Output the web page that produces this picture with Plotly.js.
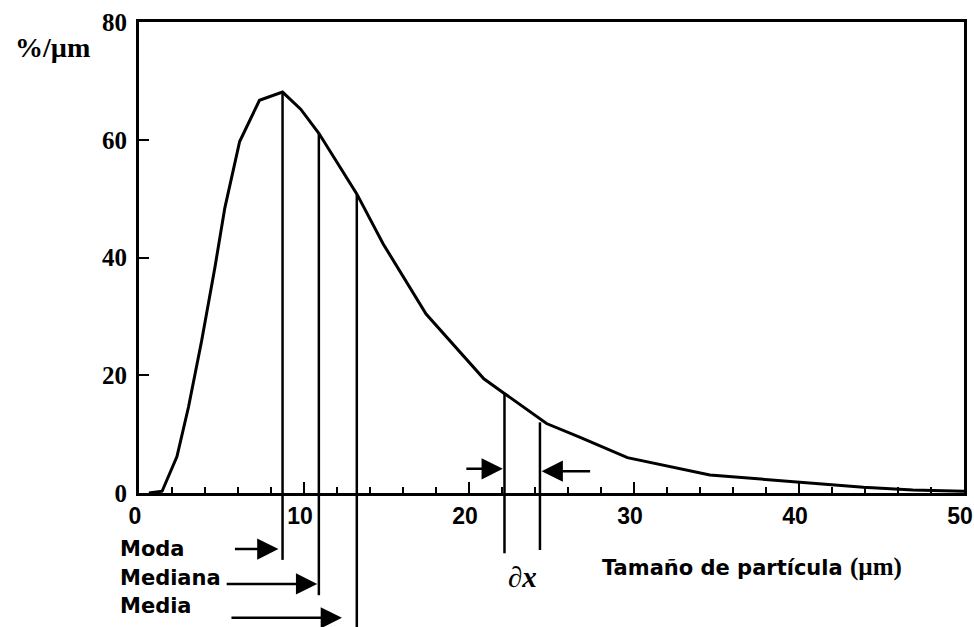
<!DOCTYPE html>
<html>
<head>
<meta charset="utf-8">
<script src="https://cdn.plot.ly/plotly-3.0.1.min.js"></script>
<style>
  html, body { margin: 0; padding: 0; background: #ffffff; }
  #chart { width: 974px; height: 627px; }
</style>
</head>
<body>
<div id="chart"></div>
<script>
// Particle size distribution (frequency curve, %/µm)
const sizeUm = [0.6, 1.4, 2.3, 3.0, 3.8, 4.6, 5.2, 6.1, 7.3, 8.7, 9.8, 10.9, 13.2, 14.8, 17.4, 20.9, 22.1, 24.7, 26.7, 29.6, 34.6, 39.9, 43.9, 46.9, 50];
const freq   = [0.0, 0.3, 6.2, 14.6, 25.9, 38.3, 48.4, 59.7, 66.7, 68.1, 65.2, 61.1, 50.8, 42.3, 30.4, 19.4, 17.0, 11.8, 9.5, 6.0, 3.05, 1.9, 0.97, 0.5, 0.3];

// Statistics marked on the curve: position and curve height there
const statNames   = ['Moda', 'Mediana', 'Media'];
const statX       = [8.7, 10.9, 13.2];
const statY       = [68.1, 61.1, 50.8];
// how far each marker line runs below the axis (paper units)
const statDrop    = [-0.142, -0.217, -0.29];
const labelY      = [-0.119, -0.180, -0.240];
const arrowY      = [-0.119, -0.193, -0.265];
const arrowTipX   = [8.45, 10.8, 12.3];
const arrowLen    = [-45, -92, -112];

// Interval ∂x
const dxX    = [22.15, 24.3];
const dxY    = [16.8, 12.0];
const dxDrop = [-0.128, -0.121];
const dxArrowY = [4.1, 3.7];
const dxArrowTip = [22.05, 24.4];
const dxArrowLen = [-38, 50];

const xTicks = [0, 10, 20, 30, 40, 50];
const yTicks = [0, 20, 40, 60, 80];

const serifBold = 'Liberation Serif, Times New Roman, serif';
const sansBold = 'DejaVu Sans, Arial, sans-serif';

const shapes = [];
const annotations = [];

statX.forEach((x, i) => {
  shapes.push({type: 'line', xref: 'x', yref: 'y', x0: x, x1: x, y0: 0, y1: statY[i],
               line: {color: '#000', width: 2.5}});
  shapes.push({type: 'line', xref: 'x', yref: 'paper', x0: x, x1: x, y0: 0, y1: statDrop[i],
               line: {color: '#000', width: 2.5}});
  annotations.push({xref: 'paper', yref: 'paper', x: -0.026, y: labelY[i], xanchor: 'left', yanchor: 'middle',
                    text: '<b>' + statNames[i] + '</b>', showarrow: false,
                    font: {family: sansBold, size: 21, color: '#000'}});
  annotations.push({xref: 'x', yref: 'paper', x: arrowTipX[i], y: arrowY[i], text: '',
                    showarrow: true, arrowhead: 2, arrowsize: 1.7, arrowwidth: 2.5, arrowcolor: '#000',
                    ax: arrowLen[i], ay: 0, standoff: 0});
});

dxX.forEach((x, i) => {
  shapes.push({type: 'line', xref: 'x', yref: 'y', x0: x, x1: x, y0: 0, y1: dxY[i],
               line: {color: '#000', width: 2.5}});
  shapes.push({type: 'line', xref: 'x', yref: 'paper', x0: x, x1: x, y0: 0, y1: dxDrop[i],
               line: {color: '#000', width: 2.5}});
  annotations.push({xref: 'x', yref: 'y', x: dxArrowTip[i], y: dxArrowY[i], text: '',
                    showarrow: true, arrowhead: 2, arrowsize: 1.7, arrowwidth: 2.5, arrowcolor: '#000',
                    ax: dxArrowLen[i], ay: 0, standoff: 0});
});

annotations.push({xref: 'x', yref: 'paper', x: (dxX[0] + dxX[1]) / 2, y: -0.178,
                  xanchor: 'center', yanchor: 'middle', showarrow: false,
                  text: '∂x', font: {family: serifBold, size: 29, color: '#000', style: 'italic', weight: 'bold'}});

annotations.push({xref: 'paper', yref: 'paper', x: 0.743, y: -0.157, xanchor: 'center', yanchor: 'middle',
                  showarrow: false,
                  text: '<b>Tamaño de partícula </b><span style="font-family:Liberation Serif;font-size:25px"><b>(µm)</b></span>',
                  font: {family: sansBold, size: 21, color: '#000'}});

annotations.push({xref: 'paper', yref: 'paper', x: -0.105, y: 0.945, xanchor: 'center', yanchor: 'middle',
                  showarrow: false, text: '<b>%/µm</b>',
                  font: {family: serifBold, size: 28, color: '#000'}});

const curve = {
  type: 'scatter', mode: 'lines', x: sizeUm, y: freq,
  line: {color: '#000', width: 3}, hoverinfo: 'skip'
};

const layout = {
  width: 974, height: 627,
  margin: {l: 139, r: 10, t: 22, b: 134, pad: 0},
  paper_bgcolor: '#fff', plot_bgcolor: '#fff',
  showlegend: false,
  xaxis: {
    range: [0, 50], tickvals: xTicks, ticktext: xTicks.map(String),
    ticks: 'inside', ticklen: 11, tickwidth: 2, tickcolor: '#000',
    minor: {dtick: 2, ticks: 'inside', ticklen: 6, tickwidth: 2, tickcolor: '#000', showgrid: false},
    showline: true, linewidth: 3, linecolor: '#000', mirror: true,
    showgrid: false, zeroline: false,
    ticklabelstandoff: 0, ticklabelshift: -4,
    tickfont: {family: 'Liberation Sans, Arial, sans-serif', size: 23, color: '#000', weight: 'bold'}
  },
  yaxis: {
    range: [0, 80], tickvals: yTicks, ticktext: yTicks.map(String),
    ticks: 'inside', ticklen: 10, tickwidth: 2, tickcolor: '#000',
    showline: true, linewidth: 3, linecolor: '#000', mirror: true,
    showgrid: false, zeroline: false,
    ticklabelstandoff: 4,
    tickfont: {family: serifBold, size: 25, color: '#000', weight: 'bold'}
  },
  shapes: shapes,
  annotations: annotations
};

Plotly.newPlot('chart', [curve], layout, {staticPlot: true, displayModeBar: false});
</script>
</body>
</html>
